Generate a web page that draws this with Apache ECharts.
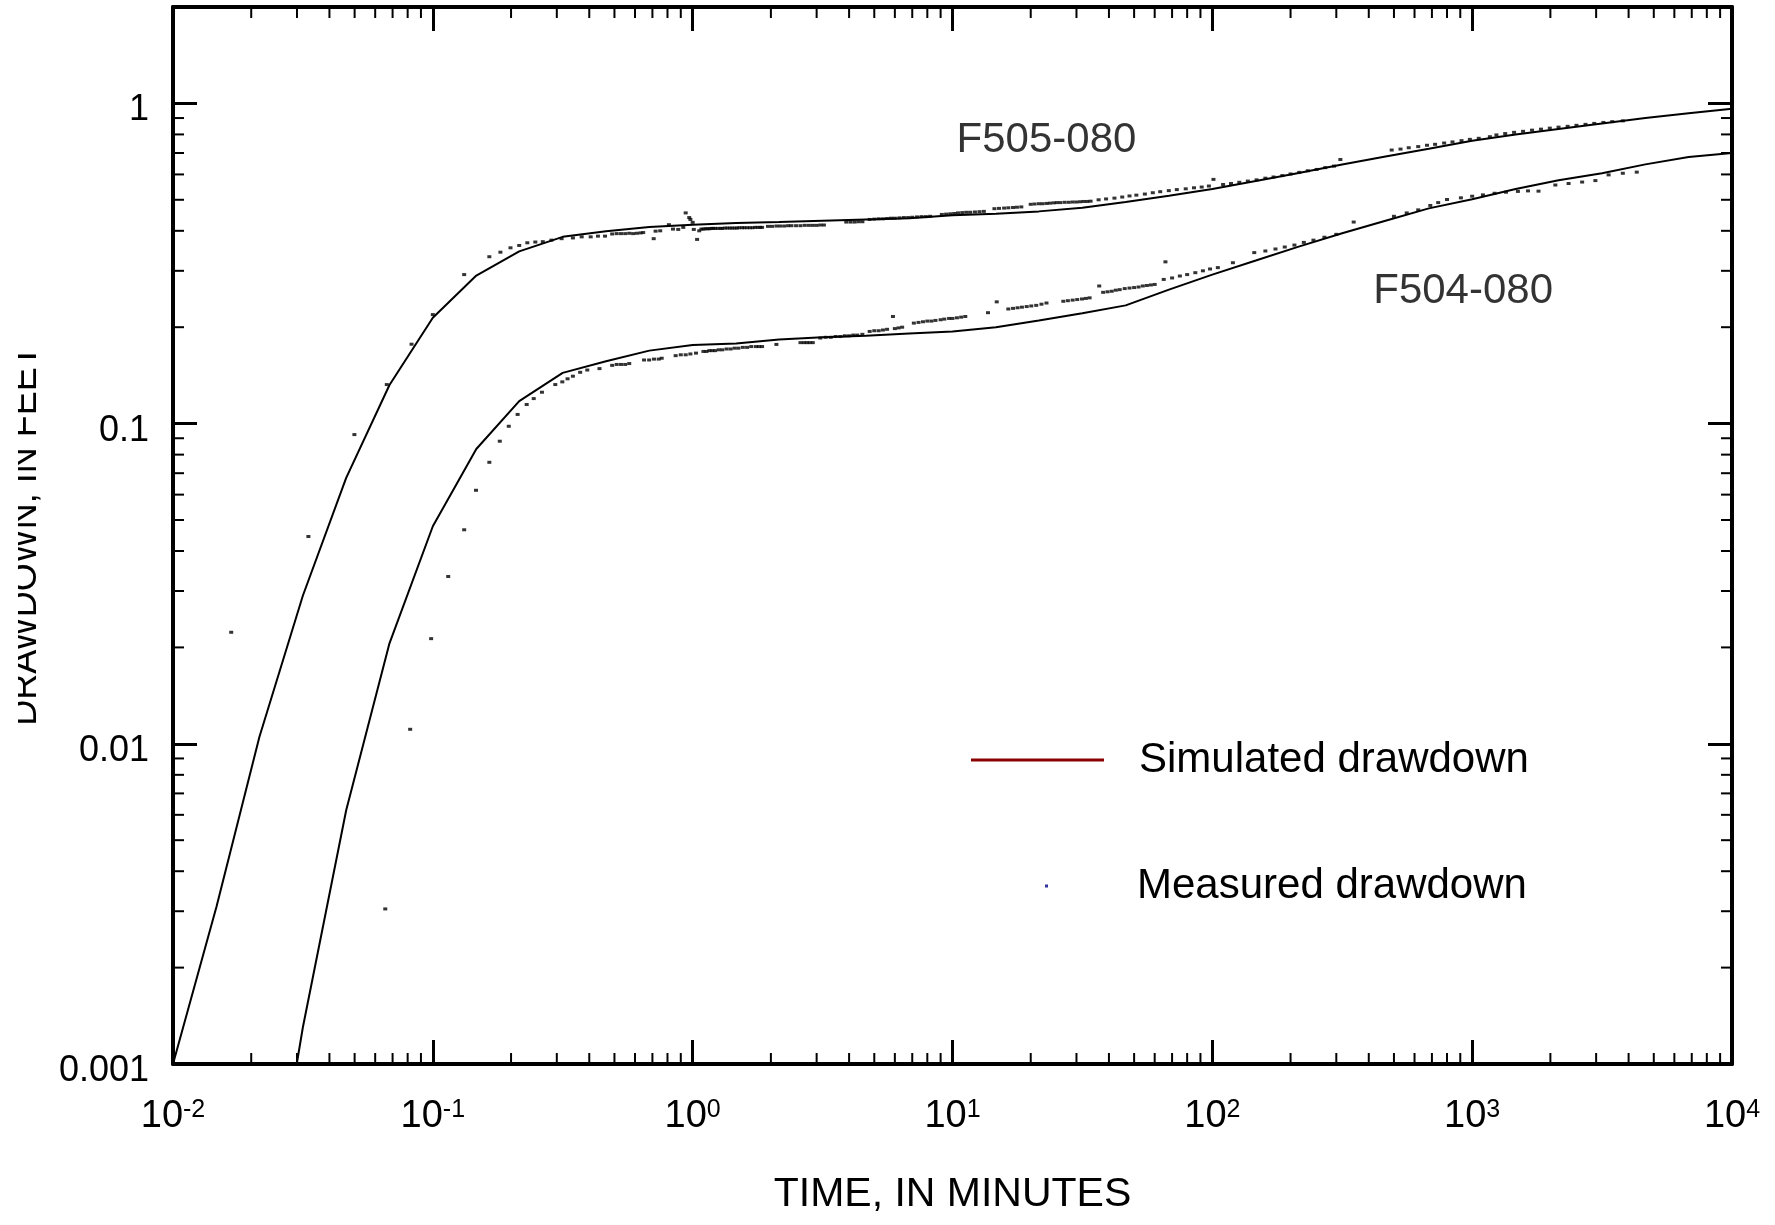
<!DOCTYPE html>
<html><head><meta charset="utf-8">
<script src="https://cdn.jsdelivr.net/npm/echarts@6/dist/echarts.min.js"></script>
<style>html,body{margin:0;padding:0;background:#fff}#c{width:1775px;height:1225px}</style>
</head><body><div id="c"></div><script>
// ---- tick labels ----
const xTickExponents = [-2, -1, 0, 1, 2, 3, 4];
const yTickLabels = ['0.001', '0.01', '0.1', '1'];
const minorMultipliers = [2, 3, 4, 5, 6, 7, 8, 9];
const xDecades = [0.01, 0.1, 1, 10, 100, 1000];
const yDecades = [0.001, 0.01, 0.1];

// ---- simulated drawdown (time in minutes, drawdown in feet) ----
const simTimes = [0.01, 0.0147, 0.0215, 0.0316, 0.0464, 0.0681, 0.1, 0.147, 0.215, 0.316, 0.464, 0.681,
  1, 1.47, 2.15, 3.16, 4.64, 6.81, 10, 14.7, 21.5, 31.6, 46.4, 68.1, 100, 147, 215, 316, 464, 681,
  1000, 1470, 2150, 3160, 4640, 6810, 10000];
const simF505 = [0.001, 0.0031, 0.0105, 0.029, 0.0677, 0.132, 0.214, 0.290, 0.345, 0.383, 0.399, 0.411,
  0.418, 0.423, 0.426, 0.430, 0.434, 0.438, 0.447, 0.452, 0.460, 0.472, 0.492, 0.515, 0.540, 0.572, 0.606,
  0.644, 0.683, 0.722, 0.764, 0.800, 0.832, 0.866, 0.900, 0.932, 0.962];
const simF504 = [null, null, 0.0002, 0.0013, 0.0062, 0.0206, 0.0478, 0.0833, 0.1175, 0.144, 0.1566, 0.169,
  0.176, 0.178, 0.183, 0.186, 0.188, 0.191, 0.194, 0.200, 0.210, 0.221, 0.234, 0.262, 0.292, 0.323, 0.357,
  0.393, 0.430, 0.470, 0.502, 0.540, 0.575, 0.605, 0.645, 0.680, 0.700];

// ---- measured drawdown [time, drawdown] ----
const measF505 = [
  [0.01675,0.0223],[0.0332,0.0444],[0.0499,0.0924],[0.0665,0.1324],[0.0828,0.177],[0.1,0.219],
  [0.132,0.292],[0.165,0.332],[0.182,0.343],[0.199,0.354],[0.215,0.36],[0.231,0.367],[0.248,0.369],
  [0.265,0.37],[0.286,0.374],[0.313,0.378],[0.346,0.38],[0.374,0.383],[0.405,0.383],[0.432,0.385],
  [0.46,0.385],[0.49,0.391],[0.51,0.392],[0.53,0.392],[0.55,0.392],[0.57,0.393],[0.59,0.392],
  [0.61,0.393],[0.63,0.394],[0.645,0.395],[0.708,0.378],[0.72,0.399],[0.75,0.4],[0.81,0.418],
  [0.84,0.405],[0.88,0.404],[0.92,0.41],[0.94,0.455],[0.97,0.44],[0.98,0.434],[1.0,0.425],
  [1.01,0.404],[1.04,0.376],[1.06,0.4],[1.08,0.405],[1.1,0.405],[1.12,0.406],[1.14,0.406],[1.16,0.406],
  [1.18,0.407],[1.2,0.407],[1.22,0.407],[1.25,0.407],[1.28,0.407],[1.3,0.407],[1.33,0.408],[1.36,0.408],
  [1.39,0.408],[1.42,0.408],[1.45,0.408],[1.48,0.408],[1.51,0.409],[1.55,0.409],[1.58,0.409],[1.62,0.409],
  [1.66,0.409],[1.7,0.409],[1.74,0.41],[1.78,0.41],[1.82,0.41],[1.85,0.41],[1.95,0.413],[2.02,0.413],
  [2.1,0.414],[2.17,0.414],[2.25,0.414],[2.33,0.415],[2.4,0.415],[2.5,0.415],[2.6,0.415],[2.7,0.416],
  [2.8,0.416],[2.9,0.416],[3.0,0.416],[3.1,0.417],[3.2,0.417],[3.9,0.426],[4.05,0.426],[4.2,0.426],
  [4.35,0.427],[4.5,0.427],[4.8,0.434],[5.0,0.435],[5.2,0.436],[5.4,0.436],[5.6,0.437],[5.8,0.438],
  [6.0,0.438],[6.25,0.439],[6.5,0.44],[6.75,0.44],[7.0,0.441],[7.3,0.442],[7.6,0.443],[7.9,0.443],[8.2,0.444],
  [9.1,0.45],[9.45,0.451],[9.8,0.452],[10.15,0.453],[10.5,0.455],[10.9,0.456],[11.3,0.457],[11.7,0.457],
  [12.2,0.458],[12.7,0.459],[13.2,0.46],[14.5,0.469],[15.1,0.47],[15.8,0.471],[16.4,0.472],[17.1,0.473],
  [17.7,0.474],[18.4,0.475],[20,0.484],[20.7,0.485],[21.5,0.486],[22.2,0.486],[23,0.487],[23.7,0.488],
  [24.5,0.489],[25.2,0.49],[26,0.49],[27,0.491],[28,0.491],[29,0.492],[30,0.492],[31,0.493],[32,0.494],
  [33,0.494],[34,0.495],[36.5,0.5],[39,0.503],[42,0.506],[45,0.51],[48,0.514],[51,0.517],[55,0.521],
  [59,0.526],[63,0.53],[68,0.534],[73,0.538],[79,0.541],[85,0.545],[91,0.548],[97,0.552],[101,0.579],
  [110,0.558],[118,0.562],[127,0.567],[137,0.572],[148,0.577],[160,0.584],[172,0.589],[186,0.595],
  [200,0.602],[216,0.609],[233,0.616],[252,0.622],[272,0.63],[294,0.637],[311,0.668],
  [490,0.715],[530,0.72],[570,0.727],[620,0.733],[670,0.74],[720,0.745],[780,0.752],[840,0.758],
  [910,0.765],[980,0.772],[1060,0.778],[1170,0.787],[1240,0.797],[1340,0.805],[1450,0.812],
  [1570,0.818],[1700,0.825],[1840,0.831],[1990,0.837],[2150,0.843],[2330,0.848],[2520,0.854],
  [2730,0.86],[2950,0.866],[3200,0.872],[3460,0.877],[3800,0.882]
];
const measF504 = [
  [0.0656,0.00305],[0.0818,0.0111],[0.0985,0.0213],[0.1146,0.0333],[0.132,0.0466],[0.1466,0.0619],
  [0.165,0.0757],[0.181,0.0881],[0.196,0.0981],[0.212,0.1068],[0.2297,0.1147],[0.2445,0.1197],
  [0.263,0.1253],[0.296,0.1324],[0.315,0.135],[0.33,0.138],[0.346,0.1406],[0.369,0.1446],
  [0.393,0.147],[0.438,0.1485],[0.49,0.152],[0.51,0.153],[0.53,0.153],[0.55,0.153],[0.57,0.154],
  [0.65,0.158],[0.68,0.158],[0.71,0.159],[0.74,0.159],[0.76,0.16],[0.86,0.163],[0.9,0.164],
  [0.94,0.164],[0.98,0.165],[1.03,0.166],[1.1,0.168],[1.13,0.168],[1.16,0.169],[1.19,0.169],[1.22,0.169],
  [1.26,0.17],[1.3,0.17],[1.35,0.171],[1.4,0.171],[1.45,0.172],[1.5,0.172],[1.56,0.173],[1.62,0.173],
  [1.68,0.174],[1.75,0.174],[1.8,0.174],[1.85,0.174],[2.1,0.1767],[2.6,0.179],[2.68,0.179],
  [2.75,0.179],[2.82,0.179],[2.9,0.179],[3.1,0.185],[3.25,0.186],[3.4,0.186],[3.55,0.187],[3.7,0.187],
  [3.85,0.188],[4.0,0.188],[4.15,0.189],[4.3,0.189],[4.5,0.19],[4.8,0.194],[5.0,0.195],[5.2,0.195],
  [5.4,0.196],[5.6,0.197],[5.9,0.216],[6.0,0.198],[6.2,0.199],[6.4,0.2],[7.1,0.206],[7.4,0.207],
  [7.7,0.208],[8.0,0.209],[8.3,0.209],[8.6,0.21],[9.0,0.211],[9.3,0.212],[9.7,0.213],[10.0,0.213],
  [10.4,0.214],[10.8,0.215],[11.2,0.216],[13.7,0.222],[14.8,0.24],[16.4,0.228],[17.1,0.229],
  [17.8,0.23],[18.5,0.231],[19.3,0.232],[20.1,0.233],[21,0.234],[22,0.236],[23,0.238],[26.7,0.241],
  [27.8,0.242],[29,0.243],[30.2,0.244],[31.5,0.245],[32.6,0.246],[33.7,0.247],[36.7,0.269],
  [38,0.257],[39.5,0.258],[41,0.259],[42.5,0.261],[44,0.262],[46,0.264],[48,0.265],[50,0.266],[52,0.267],
  [54,0.269],[56,0.27],[58,0.271],[60,0.272],[65,0.282],[66,0.32],[70,0.285],[75,0.289],[80,0.292],
  [86,0.296],[92,0.3],[98,0.304],[105,0.307],[120,0.318],[145,0.342],[160,0.346],[175,0.351],
  [190,0.356],[207,0.361],[225,0.368],[245,0.374],[270,0.382],[300,0.39],[350,0.426],[500,0.444],
  [560,0.455],[620,0.465],[690,0.48],[740,0.49],[800,0.501],[905,0.507],[1000,0.513],[1100,0.518],
  [1220,0.524],[1350,0.528],[1500,0.531],[1640,0.533],[1800,0.532],[2090,0.556],[2350,0.562],
  [2650,0.568],[2980,0.574],[3350,0.598],[3800,0.605],[4300,0.61]
];

// ---- well labels ----
const wellNames = ['F505-080', 'F504-080'];
const wellLabelPos = [[23, 0.765], [923, 0.258]];

const FONT = "'Liberation Sans', Arial, Helvetica, sans-serif";

const xMinorTicks = [];
xDecades.forEach(d => minorMultipliers.forEach(m => xMinorTicks.push([d * m, 1])));
const yMinorTicks = [];
yDecades.forEach(d => minorMultipliers.forEach(m => yMinorTicks.push([1, d * m])));

function expOf(v) {
  const e = Math.log10(v);
  const r = Math.round(e);
  return Math.abs(e - r) < 1e-6 ? r : null;
}

const axisLineStyle = { show: true, onZero: false, lineStyle: { color: '#000', width: 4 } };
const majorTick = { show: true, inside: true, length: 24, lineStyle: { color: '#000', width: 3 } };

function logX(extra) {
  return Object.assign({
    type: 'log', logBase: 10, min: 0.01, max: 10000,
    axisLine: axisLineStyle, axisTick: majorTick,
    splitLine: { show: false }, minorTick: { show: false }, minorSplitLine: { show: false }
  }, extra);
}
function logY(extra) {
  return Object.assign({
    type: 'log', logBase: 10, min: 0.001, max: 2,
    axisLine: axisLineStyle, axisTick: majorTick,
    splitLine: { show: false }, minorTick: { show: false }, minorSplitLine: { show: false }
  }, extra);
}

const chart = echarts.init(document.getElementById('c'), null, { renderer: 'canvas', width: 1775, height: 1225 });

const option = {
  animation: false,
  backgroundColor: '#fff',
  textStyle: { fontFamily: FONT },
  grid: { left: 170, top: 7, right: 43, bottom: 161, containLabel: false },
  xAxis: [
    logX({
      position: 'bottom',
      name: 'TIME, IN MINUTES', nameLocation: 'middle', nameGap: 110,
      nameTextStyle: { fontSize: 41, fontFamily: FONT, color: '#000' },
      axisLabel: {
        margin: 34, color: '#000',
        formatter: function (v) {
          const e = expOf(v);
          if (e === null || xTickExponents.indexOf(e) < 0) return '';
          return '{b|10}{s|' + e + '}';
        },
        rich: {
          b: { fontSize: 38, fontFamily: FONT, color: '#000' },
          s: { fontSize: 25, lineHeight: 17, fontFamily: FONT, color: '#000', verticalAlign: 'top' }
        }
      }
    }),
    logX({ position: 'top', axisLabel: { show: false } })
  ],
  yAxis: [
    logY({
      position: 'left',
      name: 'DRAWDOWN, IN FEET', nameLocation: 'middle', nameGap: 129,
      nameTextStyle: { fontSize: 36, fontFamily: FONT, color: '#000' },
      axisLabel: {
        margin: 24, fontSize: 36, fontFamily: FONT, color: '#000',
        verticalAlign: 'top', lineHeight: 14,
        formatter: function (v) {
          const e = expOf(v);
          if (e === null) return '';
          return yTickLabels[e + 3] || '';
        }
      }
    }),
    logY({ position: 'right', axisLabel: { show: false } })
  ],
  legend: [
    {
      data: [{ name: 'Simulated drawdown', icon: 'rect', itemStyle: { color: '#8B0000', borderWidth: 0 } }],
      left: 971, top: 739, padding: 0, itemWidth: 133, itemHeight: 3, selectedMode: false,
      textStyle: { fontSize: 42, fontFamily: FONT, color: '#000', padding: [0, 0, 0, 30] }
    },
    {
      data: [{ name: 'Measured drawdown', icon: 'rect', itemStyle: { color: '#000080', borderWidth: 0 } }],
      left: 1045, top: 865, padding: 0, itemWidth: 3, itemHeight: 3, selectedMode: false,
      textStyle: { fontSize: 42, fontFamily: FONT, color: '#000', padding: [0, 0, 0, 84] }
    }
  ],
  graphic: [
    { type: 'rect', left: 0, top: 300, shape: { width: 18, height: 480 }, style: { fill: '#fff' }, z: 100, silent: true }
  ],
  series: [
    {
      name: 'Simulated drawdown', type: 'line', symbol: 'none', clip: true, z: 3,
      data: simTimes.map((t, i) => [t, simF505[i]]),
      lineStyle: { color: '#000', width: 2 }, itemStyle: { color: '#000' }
    },
    {
      name: 'Simulated drawdown', type: 'line', symbol: 'none', clip: true, z: 3,
      data: simTimes.map((t, i) => [t, simF504[i]]).filter(p => p[1] !== null),
      lineStyle: { color: '#000', width: 2 }, itemStyle: { color: '#000' }
    },
    {
      name: 'Measured drawdown', type: 'scatter', symbol: 'rect', symbolSize: [4, 3],
      data: measF505, itemStyle: { color: '#000' }, z: 4
    },
    {
      name: 'Measured drawdown', type: 'scatter', symbol: 'rect', symbolSize: [4, 3],
      data: measF504, itemStyle: { color: '#000' }, z: 4
    },
    {
      name: 'wells', type: 'scatter', symbolSize: 1, silent: true,
      itemStyle: { color: 'rgba(0,0,0,0)' },
      data: wellNames.map((n, i) => ({ name: n, value: wellLabelPos[i] })),
      label: { show: true, position: 'inside', formatter: '{b}', fontSize: 42, fontFamily: FONT, color: '#000' }
    },
    {
      name: 'xminor', type: 'custom', silent: true, z: 5,
      data: xMinorTicks,
      renderItem: function (params, api) {
        const p = api.coord([api.value(0), api.value(1)]);
        const cs = params.coordSys;
        const top = cs.y, bot = cs.y + cs.height;
        return {
          type: 'group', children: [
            { type: 'line', shape: { x1: p[0], y1: bot, x2: p[0], y2: bot - 11 }, style: { stroke: '#000', lineWidth: 2 } },
            { type: 'line', shape: { x1: p[0], y1: top, x2: p[0], y2: top + 11 }, style: { stroke: '#000', lineWidth: 2 } }
          ]
        };
      }
    },
    {
      name: 'yminor', type: 'custom', silent: true, z: 5,
      data: yMinorTicks,
      renderItem: function (params, api) {
        const p = api.coord([api.value(0), api.value(1)]);
        const cs = params.coordSys;
        const l = cs.x, r = cs.x + cs.width;
        return {
          type: 'group', children: [
            { type: 'line', shape: { x1: l, y1: p[1], x2: l + 11, y2: p[1] }, style: { stroke: '#000', lineWidth: 2 } },
            { type: 'line', shape: { x1: r, y1: p[1], x2: r - 11, y2: p[1] }, style: { stroke: '#000', lineWidth: 2 } }
          ]
        };
      }
    }
  ]
};
chart.setOption(option);
</script></body></html>
